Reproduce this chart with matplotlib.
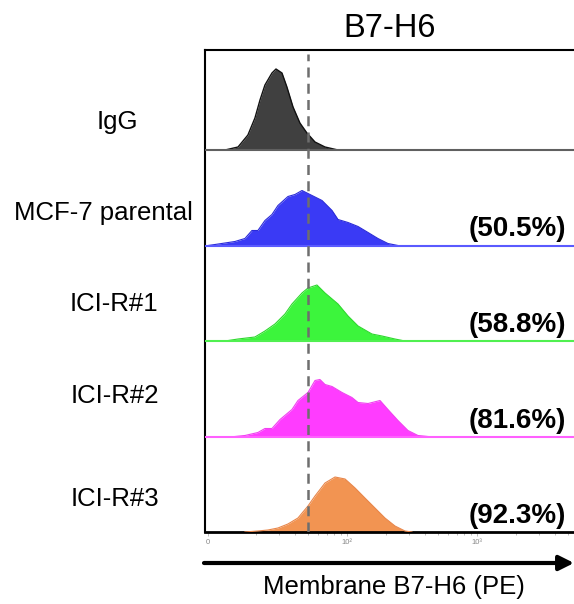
import numpy as np
import matplotlib
matplotlib.use("Agg")
import matplotlib.pyplot as plt

plt.rcParams['font.family'] = ['Liberation Sans', 'DejaVu Sans']

# samples, top row first
samples = ['IgG', 'MCF-7 parental', 'ICI-R#1', 'ICI-R#2', 'ICI-R#3']
percents = [None, '(50.5%)', '(58.8%)', '(81.6%)', '(92.3%)']
fill_colors = ['#404040', '#3a3af5', '#3cf53c', '#ff3cff', '#f29452']
edge_colors = ['#111111', '#2a2ad8', '#2ed82e', '#f040f0', '#e8864a']
base_colors = ['#606060', '#5a5aff', '#50f050', '#ff60ff', 'black']

# histogram outlines: x in log10 decades, y in counts (row height ~95)
igg_x = [1.062, 1.162, 1.238, 1.292, 1.331, 1.369, 1.423, 1.454, 1.500,
         1.538, 1.585, 1.638, 1.692, 1.754, 1.831, 1.931]
igg_y = [0, 3, 15, 32, 50, 65, 77, 81, 77, 63, 43, 27, 17, 8, 3, 0]

mcf_x = [0.931, 0.985, 1.138, 1.215, 1.269, 1.315, 1.369, 1.423, 1.469,
         1.546, 1.600, 1.654, 1.731, 1.808, 1.885, 1.931, 2.008, 2.085,
         2.162, 2.238, 2.315, 2.392]
mcf_y = [0, 1, 4, 7, 15, 15, 25, 31, 40, 49, 51, 55, 50, 45, 35, 26, 23,
         19, 13, 7, 2, 0]

r1_x = [1.062, 1.162, 1.292, 1.369, 1.446, 1.523, 1.577, 1.654, 1.700,
        1.769, 1.831, 1.931, 2.008, 2.085, 2.192, 2.269, 2.369, 2.446]
r1_y = [0, 2, 4, 10, 17, 27, 37, 48, 53, 56, 48, 37, 25, 15, 7, 5, 2, 0]

r2_x = [1.138, 1.215, 1.315, 1.369, 1.423, 1.485, 1.577, 1.623, 1.700,
        1.754, 1.792, 1.831, 1.885, 1.962, 2.038, 2.085, 2.162, 2.254,
        2.315, 2.392, 2.469, 2.546, 2.623]
r2_y = [0, 1, 4, 8, 8, 17, 27, 36, 44, 56, 57, 52, 50, 44, 39, 34, 33, 36,
        27, 16, 6, 1, 0]

r3_x = [1.215, 1.315, 1.392, 1.469, 1.546, 1.623, 1.700, 1.754, 1.831,
        1.908, 1.985, 2.062, 2.138, 2.215, 2.292, 2.369, 2.446, 2.500]
r3_y = [0, 1, 2, 4, 8, 14, 26, 36, 49, 55, 53, 44, 34, 24, 14, 6, 1, 0]

curves = [(igg_x, igg_y), (mcf_x, mcf_y), (r1_x, r1_y), (r2_x, r2_y), (r3_x, r3_y)]
gate = 50  # positive gate

tick_pos = [0.93, 2, 3]
tick_labels = ['0', '10²', '10³']

# layout (pixels of the 574x604 picture)
W, H = 574, 604
row_step = 95.5
label_x = [117, 103, 114, 115, 115]
label_base = [129, 220, 311, 403, 506]

fig = plt.figure(figsize=(W / 100, H / 100), dpi=100)
ax = fig.add_axes([205 / W, (H - 532) / H, (W - 205) / W, 482 / H])

n = len(samples)
for i in range(n):
    off = (n - 1 - i) * row_step
    x, y = curves[i]
    y = np.array(y) + off
    ax.fill_between(x, off, y, color=fill_colors[i], lw=0, zorder=2)
    ax.plot(x, y, color=edge_colors[i], lw=1.0 if i == 0 else 0.8, zorder=3)
    if i < n - 1:
        ax.axhline(off, color=base_colors[i], lw=1.5, zorder=3)
    if percents[i]:
        ax.text(0.978, off + 9, percents[i], transform=ax.get_yaxis_transform(),
                ha='right', va='baseline', fontsize=20, fontweight='bold')
    fig.text(label_x[i] / W, 1 - label_base[i] / H, samples[i],
             ha='center', va='baseline', fontsize=18.5)

ax.axvline(np.log10(gate), ymin=0, ymax=0.992, color='#6e6e6e', lw=1.8,
           dashes=(4, 2.5), zorder=5)

ax.set_xlim(0.908, 3.746)
ax.set_ylim(0, 482)
ax.set_yticks([])
ax.set_xticks(tick_pos)
ax.set_xticklabels(tick_labels)
minor = [np.log10(k * 10 ** e) for e in (1, 2, 3) for k in range(2, 10)]
ax.set_xticks([m for m in minor if m < 3.746], minor=True)
ax.tick_params(axis='x', which='both', direction='out', color='#b0b0b0',
               width=0.6, labelsize=5.5, labelcolor='#888888', pad=2)
ax.tick_params(axis='x', which='major', length=3)
ax.tick_params(axis='x', which='minor', length=2)

ax.spines['right'].set_visible(False)
ax.spines['left'].set_linewidth(1.5)
ax.spines['top'].set_linewidth(1.5)
ax.spines['bottom'].set_linewidth(2)

fig.text(390 / W, 1 - 37 / H, 'B7-H6', ha='center', va='baseline', fontsize=23.5)

ay = 1 - 563 / H
ax.annotate('', xy=(1.0, ay), xytext=(204 / W, ay), xycoords='figure fraction',
            arrowprops=dict(arrowstyle='-|>', lw=3, color='black',
                            mutation_scale=22, shrinkA=0, shrinkB=0))
fig.text(394 / W, 1 - 594 / H, 'Membrane B7-H6 (PE)', ha='center',
         va='baseline', fontsize=18.5)

fig.savefig('out.png', dpi=100)
